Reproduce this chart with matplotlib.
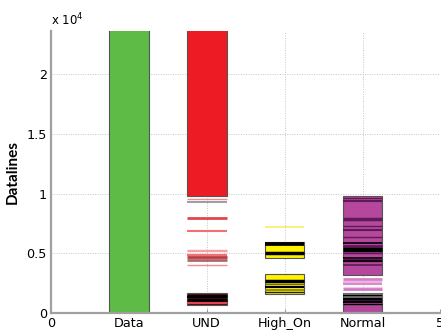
import matplotlib
matplotlib.use('Agg')
import matplotlib.pyplot as plt

# categories on the x axis (positions 1..4), 0 and 5 are plain ticks
categories = ['Data', 'UND', 'High_On', 'Normal']
tick_labels = ['0', 'Data', 'UND', 'High_On', 'Normal', '5']

# filled boxes: (category index, bottom, top, face colour)
box_cat = [1, 2, 2, 3, 3, 4, 4]
box_bottom = [0, 9800, 700, 4620, 1590, 3180, 0]
box_top = [31000, 31000, 1650, 5960, 3240, 9800, 1650]
box_color = ['#5DBB46', '#ED1C24', '#4A0E10', '#FFF200', '#FFF200', '#B5479C', '#B5479C']

# single data lines: (category index, value, colour, width)
line_cat = [2, 2, 2, 2, 2, 2, 2, 2, 2, 2,
            2, 2, 2, 2,
            3,
            3, 3,
            3, 3, 3, 3, 3,
            4, 4, 4, 4, 4, 4, 4, 4, 4, 4, 4, 4, 4, 4, 4,
            4, 4, 4, 4, 4,
            4, 4, 4, 4, 4, 4, 4]
line_val = [9550, 9340, 7930, 6840, 5300, 5160, 4850, 4650, 4400, 4060,
            1450, 1300, 1080, 800,
            7230,
            5760, 5000,
            2650, 2420, 2150, 1900, 1750,
            9610, 9390, 7860, 7290, 6950, 6390, 5870, 5600, 5480, 5290, 5000, 4620, 4450, 4320, 3990,
            2850, 2630, 2400, 2200, 1990,
            1560, 1450, 1330, 1200, 1090, 950, 780]
line_color = ['#F28B8F', '#8C8C8C', '#E0474C', '#F07075', '#F5A0A3', '#F5A0A3', '#F07075', '#C0393E', '#A86A6C', '#F28B8F',
              '#000000', '#000000', '#000000', '#E0474C',
              '#F8EE6A',
              '#000000', '#000000',
              '#000000', '#6E6A2A', '#000000', '#7A7650', '#202010',
              '#5E1A55', '#5E1A55', '#5E1A55', '#5E1A55', '#5E1A55', '#5E1A55', '#000000', '#5E1A55', '#000000', '#000000', '#5E1A55', '#000000', '#5E1A55', '#000000', '#5E1A55',
              '#D680C8', '#EBB5E0', '#D98ACB', '#F0C8E9', '#D07AC3',
              '#707070', '#000000', '#707070', '#000000', '#3A1035', '#000000', '#000000']
line_width = [1, 1.2, 2, 1.5, 1, 1, 1.5, 2, 2, 1,
              2, 1.5, 2, 1.5,
              1.2,
              2.7, 2.5,
              2.5, 1, 1.5, 1.2, 1,
              1, 1.5, 2.5, 1, 1.5, 1, 1.2, 2, 1, 2.5, 1, 1.2, 2.5, 1.2, 1.2,
              2, 1.5, 1.5, 1, 2,
              2, 1.5, 2, 1.5, 1, 1.5, 1]

bar_width = 0.51

fig = plt.figure(figsize=(4.41, 3.31), dpi=100)
ax = fig.add_axes([0.1156, 0.0544, 0.883, 0.852])

for c, b, t, col in zip(box_cat, box_bottom, box_top, box_color):
    ax.bar(c, t - b, bottom=b, width=bar_width, color=col,
           edgecolor='#555555', linewidth=0.8, zorder=2)

for c, v, col, lw in zip(line_cat, line_val, line_color, line_width):
    ax.hlines(v, c - bar_width / 2, c + bar_width / 2, colors=col,
              linewidth=lw, zorder=3)

ax.set_xlim(0, 5)
ax.set_ylim(0, 23630)
ax.set_xticks(range(6))
ax.set_xticklabels(tick_labels, fontsize=9.2)
ax.set_yticks([0, 5000, 10000, 15000, 20000])
ax.set_yticklabels(['0', '0.5', '1', '1.5', '2'], fontsize=9.2)
ax.tick_params(axis='both', direction='in', length=3, color='#999999', pad=3)
ax.tick_params(axis='y', length=0)

ax.grid(True, linestyle=(0, (1, 1.5)), color='#C4C4C4', linewidth=0.7, zorder=0)
ax.set_axisbelow(True)
for side in ['top', 'right']:
    ax.spines[side].set_visible(False)
for side in ['left', 'bottom']:
    ax.spines[side].set_color('#A0A0A0')
    ax.spines[side].set_linewidth(1.6)

ax.text(0, 1.01, r'x 10$^{4}$', transform=ax.transAxes, fontsize=8.5,
        ha='left', va='bottom')
ax.set_ylabel('Datalines', fontsize=11, fontweight='bold', family='Lato',
              labelpad=5)

fig.savefig('out.png', dpi=100)
